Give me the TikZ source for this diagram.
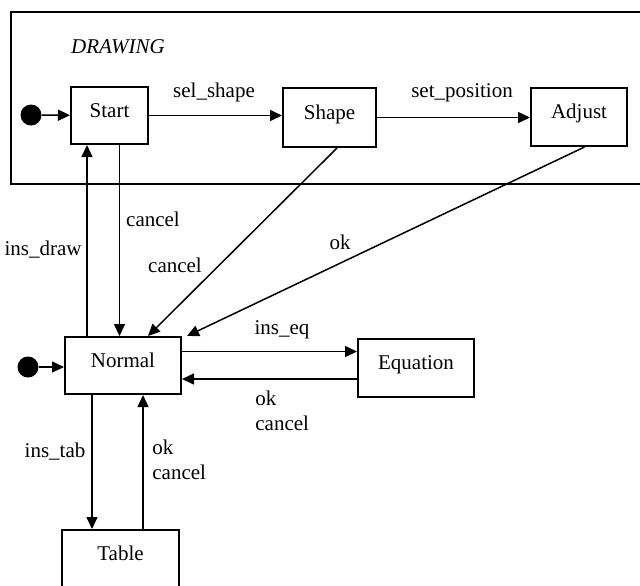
\documentclass[tikz,border=0pt]{standalone}
\usepackage{fontspec}
\setmainfont{Liberation Serif}
\usetikzlibrary{arrows.meta, positioning}

\begin{document}
\begin{tikzpicture}[
    x=0.5pt, y=-0.5pt,
    font=\fontsize{10.5}{12.5}\selectfont,
    state/.style={rectangle, draw, line width=1pt, inner sep=0pt, text height=7pt, text depth=5.4pt},
    initial/.style={circle, fill, inner sep=0pt, minimum size=10.5pt},
    trans/.style={-{Triangle[length=6pt, width=5.5pt]}, line width=0.75pt},
    lbl/.style={inner sep=0pt},
]
\clip (0,0) rectangle (640,585);

% DRAWING superstate
\draw[line width=1pt] (11,12) rectangle (660,184);
\node[lbl] (drawing) at (118,47) {\itshape DRAWING};

% States
\node[state, minimum width=38.5pt, minimum height=28.5pt] (start) at (109.5,115.5) {Start};
\node[state, minimum width=46.5pt, minimum height=29.5pt] (shape) at (329.5,117.5) {Shape};
\node[state, minimum width=48pt, minimum height=29pt] (adjust) at (579,117) {Adjust};
\node[state, minimum width=58pt, minimum height=28.5pt] (normal) at (123,365.5) {Normal};
\node[state, minimum width=58pt, minimum height=29pt] (equation) at (416,368) {Equation};
\node[state, minimum width=58.5pt, minimum height=29pt] (table) at (120.5,559) {Table};

% Initial states
\node[initial] (init1) at (31,115) {};
\node[initial] (init2) at (28,367) {};

% Transitions inside DRAWING
\draw[trans] (init1) -- (start);
\draw[trans] (start.east) -- (start.east -| shape.west);
\draw[trans] (shape.east) -- (shape.east -| adjust.west);

% Between Normal and DRAWING
\draw[trans] ([xshift=11.5pt]normal.north west) -- ([xshift=11.5pt]normal.north west |- start.south);
\draw[trans] ([xshift=5pt]start.south) -- ([xshift=5pt]start.south |- normal.north);
\draw[trans] ([xshift=3.75pt]shape.south) -- ([xshift=12.5pt]normal.north);
\draw[trans] ([xshift=2.75pt]adjust.south) -- ([xshift=2.5pt]normal.north east);

% Normal, Equation and Table
\draw[trans] (init2) -- (init2 -| normal.west);
\draw[trans] ([yshift=7pt]normal.east) -- ([yshift=7pt]normal.east -| equation.west);
\draw[trans] ([yshift=-5.5pt]equation.west) -- ([yshift=-5.5pt]equation.west -| normal.east);
\draw[trans] ([xshift=14pt]normal.south west) -- ([xshift=14pt]normal.south west |- table.north);
\draw[trans] ([xshift=41pt]table.north west) -- ([xshift=41pt]table.north west |- normal.south);

% Labels
\node[lbl] (selshape) at (214,92) {sel\_shape};
\node[lbl] (setpos) at (462,93) {set\_position};
\node[lbl] (insdraw) at (43,250) {ins\_draw};
\node[lbl] (cancel1) at (153,219) {cancel};
\node[lbl] (cancel2) at (175,265) {cancel};
\node[lbl] (ok1) at (340,242) {ok};
\node[lbl] (inseq) at (282,330) {ins\_eq};
\node[lbl, align=left, anchor=west] (okeq) at (255,411) {ok\\cancel};
\node[lbl] (instab) at (55,452) {ins\_tab};
\node[lbl, align=left, anchor=west] (oktab) at (152,460) {ok\\cancel};

\end{tikzpicture}
\end{document}
